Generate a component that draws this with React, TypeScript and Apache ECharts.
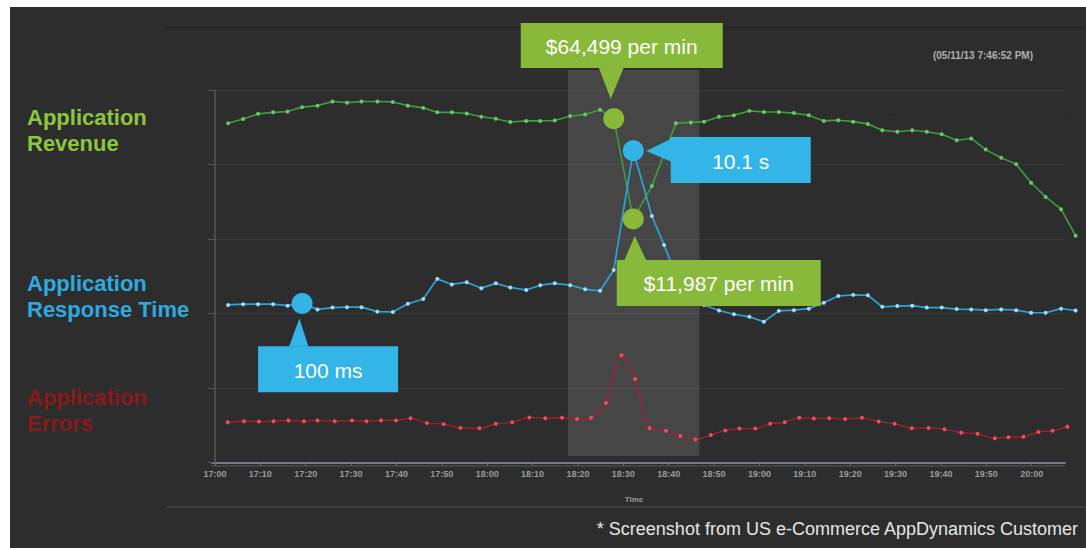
import React, { useEffect, useRef } from "react";
import * as echarts from "echarts";

// minutes after 17:00
const times = [2.9, 6.2, 9.5, 12.8, 16.0, 19.2, 22.6, 25.9, 29.1, 32.3, 35.8, 39.2, 42.5, 45.9, 49.0, 52.2, 55.5, 58.7, 61.9, 65.1, 68.6, 71.7, 74.9, 78.3, 81.6, 84.9, 87.9, 92.2, 96.3, 99.0, 101.6, 104.9, 107.8, 111.1, 114.4, 117.8, 121.0, 124.3, 127.6, 130.9, 134.2, 137.4, 140.7, 143.9, 147.1, 150.4, 153.7, 156.9, 160.2, 163.5, 166.7, 169.9, 173.3, 176.6, 179.9, 183.1, 186.5, 189.7];
const revenue = [91.1, 92.2, 93.6, 94.0, 94.2, 95.4, 95.8, 96.9, 96.6, 96.9, 96.9, 96.8, 95.8, 95.2, 94.0, 94.0, 93.7, 92.8, 92.3, 91.4, 91.7, 91.7, 91.8, 93.0, 93.4, 94.7, 92.3, 65.4, 74.2, null, 91.1, 91.3, 91.5, 92.8, 93.2, 94.4, 94.1, 94.1, 93.8, 93.2, 91.7, 91.9, 91.5, 90.9, 89.2, 88.8, 89.2, 88.8, 88.1, 86.5, 87.0, 84.0, 81.8, 80.1, 75.1, 71.3, 68.0, 60.9];
const response = [42.3, 42.5, 42.5, 42.5, 42.1, 42.7, 41.1, 41.6, 41.7, 41.7, 40.5, 40.4, 42.6, 43.9, 49.3, 47.8, 48.4, 46.8, 48.1, 47.0, 46.3, 47.6, 48.1, 47.6, 46.5, 46.1, 51.7, 83.7, 66.2, 58.4, 50.3, 44.2, 42.3, 40.8, 39.8, 39.1, 37.8, 40.7, 40.9, 41.3, 42.9, 44.7, 45.0, 44.9, 41.8, 42.0, 42.1, 41.6, 41.6, 41.2, 41.1, 40.9, 41.1, 40.9, 40.2, 40.2, 41.3, 40.8];
const errorTimes = [2.8, 6.4, 9.7, 12.9, 16.2, 19.6, 22.6, 26.4, 30.2, 33.4, 36.6, 39.9, 43.1, 46.7, 50.4, 54.1, 58.3, 61.9, 65.5, 69.3, 72.8, 76.5, 79.8, 82.9, 86.2, 89.6, 92.6, 95.8, 99.4, 102.6, 105.9, 109.3, 112.5, 115.6, 119.1, 122.4, 125.6, 128.8, 132.0, 135.4, 138.9, 142.6, 146.3, 149.8, 153.6, 157.3, 160.8, 164.5, 168.1, 171.9, 174.9, 178.2, 181.5, 184.6, 187.9];
const errors = [10.8, 11.1, 11.0, 11.1, 11.3, 11.1, 11.3, 11.1, 11.3, 11.1, 11.3, 11.3, 11.9, 10.6, 10.3, 9.3, 9.2, 10.4, 10.8, 12.1, 11.9, 12.0, 11.7, 12.0, 16.0, 28.8, 22.4, 9.2, 8.5, 7.2, 6.2, 7.4, 8.6, 9.1, 9.1, 10.4, 10.8, 12.0, 11.8, 11.9, 11.7, 12.0, 11.0, 10.4, 9.2, 9.3, 8.9, 8.0, 7.7, 6.5, 6.8, 6.9, 8.2, 8.5, 9.6];
const tickMinutes = [0, 10, 20, 30, 40, 50, 60, 70, 80, 90, 100, 110, 120, 130, 140, 150, 160, 170, 180];
const highlightRange = [77.8, 106.8];
const timestampText = "(05/11/13 7:46:52 PM)";
const footerText = "* Screenshot from US e-Commerce AppDynamics Customer";

const calloutDefs = [
  { text: "$64,499 per min", series: "revenue", index: 26 },
  { text: "10.1 s", series: "response", index: 27 },
  { text: "$11,987 per min", series: "revenue", index: 27 },
  { text: "100 ms", series: "response", index: 5 },
];

// callout geometry (relative to the anchored point), styling only
const GREEN_BOX = "#88b93b";
const BLUE_BOX = "#33b5e8";
const calloutShapes = [
  { color: GREEN_BOX, box: [-93, -95.7, 109, -50.7], tri: [[-15, -51], [10, -51], [-3, -20]] },
  { color: BLUE_BOX, box: [37.5, -13.7, 177.5, 32.3], tri: [[38, -12], [38, 11], [13, 0.3]] },
  { color: GREEN_BOX, box: [-16.5, 41, 187.5, 87], tri: [[-9, 41.5], [13, 41.5], [1.5, 17]] },
  { color: BLUE_BOX, box: [-44, 42.7, 96, 88.7], tri: [[-13, 43], [6.3, 43], [-2.7, 15]] },
];

const OX = 10;
const OY = 7;
const X = (v: number) => v - OX;
const Y = (v: number) => v - OY;

// axis frame (visible) and data frame (same scale, wider so data may run past the frame)
const X_MIN = -0.66;
const X_MAX = 187.35;
const FRAME_W = 853;
const DATA_X_MAX = 192;
const DATA_W = ((DATA_X_MAX - X_MIN) * FRAME_W) / (X_MAX - X_MIN);

const fmtTime = (v: number) => {
  const total = 17 * 60 + Math.round(v);
  const h = Math.floor(total / 60);
  const m = total % 60;
  return `${h}:${m < 10 ? "0" + m : m}`;
};

const FONT = '"Liberation Sans", Arial, Helvetica, sans-serif';

export default function App() {
  const ref = useRef<HTMLDivElement>(null);

  useEffect(() => {
    if (!ref.current) return;
    const chart = echarts.init(ref.current, undefined, { renderer: "svg" });

    const pairs = (xs: number[], ys: (number | null)[]) => xs.map((x, i) => [x, ys[i] === null ? "-" : ys[i]]);
    const anchor = (c: { series: string; index: number }) =>
      c.series === "revenue" ? [times[c.index], revenue[c.index]] : [times[c.index], response[c.index]];

    const txt = (text: string, x: number, y: number, font: string, fill: string, align: string) => ({
      type: "text",
      x: X(x),
      y: Y(y),
      z: 20,
      style: {
        text,
        fill,
        font,
        textAlign: align,
        textVerticalAlign: "middle",
        align,
        verticalAlign: "middle",
      },
    });

    const labelBlock = (lines: string[], ys: number[], color: string) =>
      lines.map((t, i) => txt(t, 27, ys[i], `bold 22px ${FONT}`, color, "left"));

    const common = { xAxisIndex: 1, yAxisIndex: 1 };

    const option: any = {
      animation: false,
      backgroundColor: "#2d2d2d",
      grid: [
        { left: X(212), top: Y(90), width: FRAME_W, height: 372.5, containLabel: false },
        { left: X(212), top: Y(90), width: DATA_W, height: 372.5, containLabel: false },
      ],
      xAxis: [
        {
          type: "value",
          gridIndex: 0,
          min: X_MIN,
          max: X_MAX,
          axisLine: { show: true, lineStyle: { color: "#737d87", width: 2 } },
          axisTick: { show: true, length: 3, lineStyle: { color: "#6a6a6a" }, customValues: tickMinutes },
          axisLabel: {
            customValues: tickMinutes,
            formatter: (v: number) => fmtTime(v),
            color: "#9c9c9c",
            fontSize: 9,
            fontWeight: "bold",
            fontFamily: FONT,
            margin: 7,
          },
          splitLine: { show: false },
        },
        { type: "value", gridIndex: 1, min: X_MIN, max: DATA_X_MAX, show: false },
      ],
      yAxis: [
        {
          type: "value",
          gridIndex: 0,
          min: 0,
          max: 100,
          interval: 20,
          axisLine: { show: true, lineStyle: { color: "#575757", width: 1.5 } },
          axisTick: { show: true, length: 7, lineStyle: { color: "#575757" } },
          axisLabel: { show: false },
          splitLine: { show: true, lineStyle: { color: "#3a3a3a", width: 1 } },
        },
        { type: "value", gridIndex: 1, min: 0, max: 100, interval: 20, show: false, splitLine: { show: false } },
      ],
      series: [
        {
          type: "custom",
          name: "highlight",
          ...common,
          z: 1,
          silent: true,
          data: [highlightRange],
          encode: { x: [0, 1] },
          renderItem: (params: any, api: any) => {
            const cs = params.coordSys;
            const x1 = api.coord([api.value(0), 0])[0];
            const x2 = api.coord([api.value(1), 0])[0];
            return {
              type: "rect",
              shape: { x: x1, y: cs.y - 20, width: x2 - x1, height: cs.height + 20 - 6.5 },
              style: { fill: "rgba(255,255,255,0.12)" },
            };
          },
        },
        {
          type: "line",
          name: "Application Revenue",
          ...common,
          z: 3,
          clip: false,
          connectNulls: true,
          data: pairs(times, revenue),
          symbol: "circle",
          symbolSize: 4,
          lineStyle: { color: "#3f9c40", width: 1.6 },
          itemStyle: { color: "#66c866" },
          markPoint: {
            symbol: "circle",
            symbolSize: 21,
            silent: true,
            label: { show: false },
            itemStyle: { color: "#8ab93a" },
            data: [
              { coord: [times[26], revenue[26]] },
              { coord: [times[27], revenue[27]] },
            ],
          },
        },
        {
          type: "line",
          name: "Application Response Time",
          ...common,
          z: 3,
          clip: false,
          data: pairs(times, response),
          symbol: "circle",
          symbolSize: 4,
          lineStyle: { color: "#2ba4d8", width: 1.7 },
          itemStyle: { color: "#9ddcf7" },
          markPoint: {
            symbol: "circle",
            symbolSize: 21,
            silent: true,
            label: { show: false },
            itemStyle: { color: "#33b3e6" },
            data: [
              { coord: [times[5], response[5]] },
              { coord: [times[27], response[27]] },
            ],
          },
        },
        {
          type: "line",
          name: "Application Errors",
          ...common,
          z: 3,
          clip: false,
          smooth: 0.3,
          data: pairs(errorTimes, errors),
          symbol: "circle",
          symbolSize: 4,
          lineStyle: { color: "#a81f30", width: 1.3 },
          itemStyle: { color: "#ee4c5c" },
        },
        {
          type: "custom",
          name: "callouts",
          ...common,
          z: 10,
          silent: true,
          data: calloutDefs.map((c) => anchor(c)),
          renderItem: (params: any, api: any) => {
            const s = calloutShapes[params.dataIndex];
            const c = calloutDefs[params.dataIndex];
            const p = api.coord([api.value(0), api.value(1)]);
            const [x1, y1, x2, y2] = s.box;
            return {
              type: "group",
              children: [
                {
                  type: "polygon",
                  shape: { points: s.tri.map(([dx, dy]) => [p[0] + dx, p[1] + dy]) },
                  style: { fill: s.color },
                },
                {
                  type: "rect",
                  shape: { x: p[0] + x1, y: p[1] + y1, width: x2 - x1, height: y2 - y1 },
                  style: { fill: s.color },
                },
                {
                  type: "text",
                  style: {
                    text: c.text,
                    x: p[0] + (x1 + x2) / 2,
                    y: p[1] + (y1 + y2) / 2 + 1,
                    fill: "#ffffff",
                    font: `21px ${FONT}`,
                    textAlign: "center",
                    textVerticalAlign: "middle",
                    align: "center",
                    verticalAlign: "middle",
                  },
                },
              ],
            };
          },
        },
      ],
      graphic: [
        { type: "line", z: 0, shape: { x1: X(166), y1: Y(27.5), x2: X(1086), y2: Y(27.5) }, style: { stroke: "#232323", lineWidth: 1.5 } },
        { type: "line", z: 0, shape: { x1: X(166), y1: Y(507), x2: X(1086), y2: Y(507) }, style: { stroke: "#474747", lineWidth: 1.5 } },
        { type: "line", z: 0, shape: { x1: X(890), y1: Y(115), x2: X(1065), y2: Y(115) }, style: { stroke: "#262626", lineWidth: 1 } },
        { type: "line", z: 0, shape: { x1: X(212), y1: Y(466), x2: X(1065), y2: Y(466) }, style: { stroke: "#535a61", lineWidth: 1 } },
        ...labelBlock(["Application", "Revenue"], [117, 143], "#8cc63f"),
        ...labelBlock(["Application", "Response Time"], [283, 309], "#2eaae1"),
        ...labelBlock(["Application", "Errors"], [397, 423], "#8a1b1c"),
        txt(timestampText, 983, 55, `bold 10px ${FONT}`, "#b0b0b0", "center"),
        txt("Time", 634, 499, `bold 8px ${FONT}`, "#9c9c9c", "center"),
        txt(footerText, 1078, 529, `18px ${FONT}`, "#e6e6e6", "right"),
      ],
    };

    chart.setOption(option);
    return () => chart.dispose();
  }, []);

  return (
    <div style={{ position: "fixed", left: 0, top: 0, width: 1086, height: 548, background: "#ffffff" }}>
      <div ref={ref} style={{ position: "absolute", left: OX, top: OY, width: 1086 - OX, height: 548 - OY }} />
    </div>
  );
}
